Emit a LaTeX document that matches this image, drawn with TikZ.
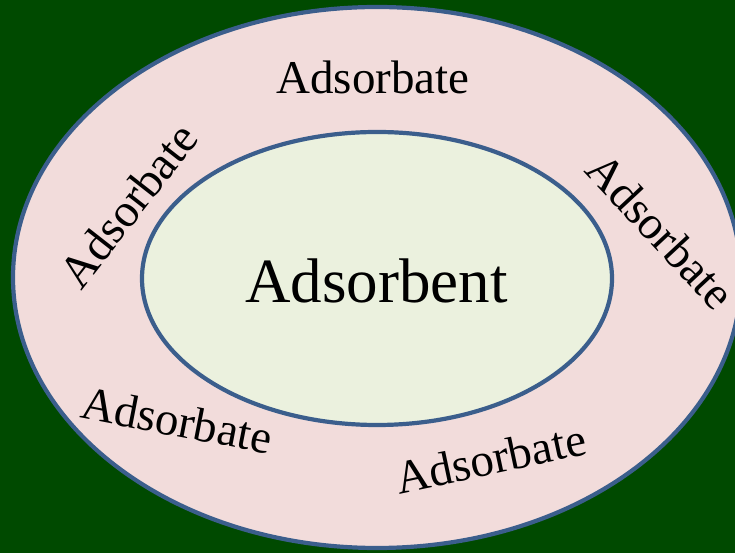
\documentclass[tikz,border=0pt]{standalone}
\usepackage{fontspec}
\setmainfont{Liberation Serif}
\definecolor{bggreen}{RGB}{0,74,0}
\definecolor{rimblue}{RGB}{59,94,140}
\definecolor{shellpink}{RGB}{242,220,219}
\definecolor{corecream}{RGB}{235,241,222}
\tikzset{
  ring/.style={draw=rimblue, line width=4.2pt},
  sorbate/.style={anchor=base, inner sep=0pt, font=\fontsize{47}{56}\selectfont},
  sorbent/.style={anchor=base, inner sep=0pt, font=\fontsize{63}{75}\selectfont}
}
\begin{document}
\begin{tikzpicture}[x=1pt,y=1pt]
  % background
  \fill[bggreen] (0,0) rectangle (735,553);
  \useasboundingbox (0,0) rectangle (735,553);
  % adsorbate shell and adsorbent core
  \path[ring, fill=shellpink] (377,275.5) ellipse [x radius=364, y radius=270.5];
  \path[ring, fill=corecream] (377,274.5) ellipse [x radius=235, y radius=146.5];
  % labels
  \node[sorbent] (core) at (376.5,250) {Adsorbent};
  \node[sorbate] (top) at (373,459) {Adsorbate};
  \node[sorbate, rotate=52] (left) at (141,338) {Adsorbate};
  \node[sorbate, rotate=-47] (right) at (649,311) {Adsorbate};
  \node[sorbate, rotate=-11] (lowleft) at (174,117) {Adsorbate};
  \node[sorbate, rotate=12] (lowright) at (494,79) {Adsorbate};
\end{tikzpicture}
\end{document}
